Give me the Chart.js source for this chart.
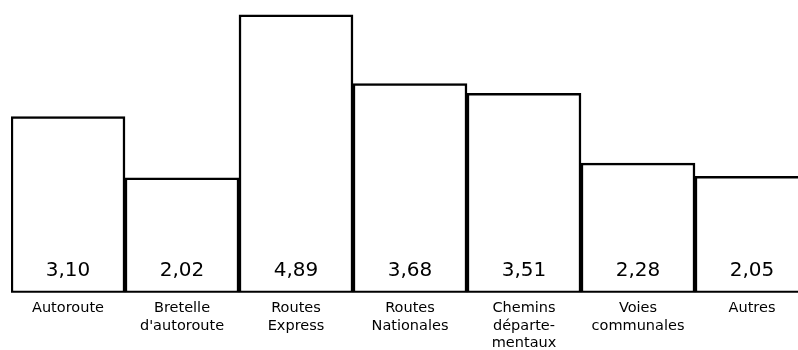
<!DOCTYPE html>
<html lang="fr">
<head>
<meta charset="UTF-8">
<title>Routes</title>
<script src="https://cdn.jsdelivr.net/npm/chart.js@4.4.0/dist/chart.umd.min.js"></script>
<style>
    html, body { margin: 0; background: #fff; overflow: hidden; }
    /* canvas a bit larger than the window: the last bar runs off the right edge */
    .wrap { position: relative; width: 809px; height: 359px; }
</style>
</head>
<body>
<div class="wrap"><canvas id="chart"></canvas></div>
<script>
    const categories = [
        ['Autoroute'],
        ['Bretelle', "d'autoroute"],
        ['Routes', 'Express'],
        ['Routes', 'Nationales'],
        ['Chemins', 'départe-', 'mentaux'],
        ['Voies', 'communales'],
        ['Autres']
    ];
    const values = [3.10, 2.02, 4.89, 3.68, 3.51, 2.28, 2.05];
    const valueLabels = ['3,10', '2,02', '4,89', '3,68', '3,51', '2,28', '2,05'];

    // value written inside each bar, near its bottom
    const insideLabels = {
        id: 'insideLabels',
        afterDatasetsDraw(chart) {
            const ctx = chart.ctx;
            const meta = chart.getDatasetMeta(0);
            ctx.save();
            ctx.font = '20px "DejaVu Sans"';
            ctx.fillStyle = '#000';
            ctx.textAlign = 'center';
            ctx.textBaseline = 'middle';
            meta.data.forEach((bar, i) => {
                ctx.fillText(valueLabels[i], bar.x, bar.base - 22);
            });
            ctx.restore();
        }
    };

    new Chart(document.getElementById('chart'), {
        type: 'bar',
        data: {
            labels: categories,
            datasets: [{
                data: values,
                backgroundColor: '#fff',
                borderColor: '#000',
                borderWidth: 2.5,
                borderSkipped: false,
                categoryPercentage: 1,
                barPercentage: 1
            }]
        },
        options: {
            responsive: true,
            maintainAspectRatio: false,
            animation: false,
            layout: { padding: { left: 11, right: 0, top: 0, bottom: 0 } },
            plugins: { legend: { display: false }, tooltip: { enabled: false } },
            scales: {
                x: {
                    grid: { display: false, drawTicks: false },
                    border: { display: false },
                    ticks: {
                        color: '#000',
                        padding: 7,
                        maxRotation: 0,
                        autoSkip: false,
                        font: { family: 'DejaVu Sans', size: 14.5, lineHeight: 1.2 }
                    }
                },
                y: {
                    display: false,
                    min: 0,
                    max: 5.15
                }
            }
        },
        plugins: [insideLabels]
    });
</script>
</body>
</html>
